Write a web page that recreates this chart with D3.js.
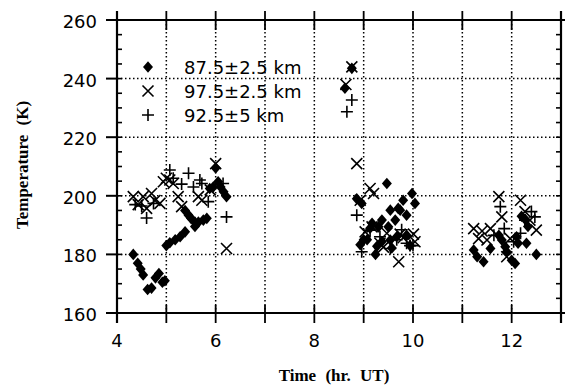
<!DOCTYPE html>
<html>
<head>
<meta charset="utf-8">
<script src="https://cdnjs.cloudflare.com/ajax/libs/d3/7.8.5/d3.min.js"></script>
<style>
  body { margin: 0; background: #fff; }
  svg { display: block; }
  .tick-label { font-family: "DejaVu Sans", sans-serif; font-size: 18px; fill: #000; }
  .title { font-family: "Liberation Serif", serif; font-weight: bold; font-size: 17px; fill: #000; }
</style>
</head>
<body>
<div id="chart"></div>
<script>
// time (hr UT), temperature (K)
const s875 = [
  [4.33,180],[4.42,177],[4.48,175],[4.53,173],[4.62,168],[4.70,168.5],[4.78,172],[4.85,173.5],[4.92,170.5],[4.97,171],
  [5.00,183],[5.07,184],[5.18,185],[5.28,186],[5.38,187.7],
  [5.38,195],[5.45,193.4],[5.50,192.3],[5.58,191],[5.58,189.5],[5.65,191],[5.75,191.7],[5.82,192.3],
  [5.88,202.5],[5.95,203],[6.00,209.5],[6.05,204.8],[6.10,203],[6.16,201.4],[6.22,199.7],
  [8.62,236.7],[8.76,243.5],
  [8.86,199],[8.96,197.4],[9.00,185],[8.93,183.3],[9.07,185],[9.13,188.9],[9.17,190.6],[9.24,180],[9.27,182.8],
  [9.30,189.4],[9.37,191.7],[9.37,184.4],[9.47,204.2],[9.50,189.4],[9.54,195.1],[9.54,184.9],[9.57,182.2],
  [9.64,191.7],[9.67,186],[9.70,195.7],[9.74,195.1],[9.80,198.5],[9.87,193.4],[9.87,186.5],[9.94,183],
  [9.98,200.8],[10.04,197.4],
  [11.23,181.5],[11.30,179.2],[11.43,177.5],[11.57,182],[11.74,186.5],[11.80,184.9],[11.87,182.6],[11.90,180.9],
  [12.00,178],[12.07,176.9],[12.10,186],[12.13,183.8],[12.20,193],[12.27,192],[12.30,183.8],[12.33,189.5],[12.50,180]
];
const s975 = [
  [4.33,199.7],[4.43,197],[4.53,199.7],[4.60,195.7],[4.70,200.8],[4.77,198.4],[4.87,197.4],[4.94,204.8],
  [5.00,206],[5.07,205.4],[5.14,204.2],[5.24,199.7],[5.31,196.3],[5.65,199.7],[5.72,198.5],[5.89,202],
  [6.00,211],[6.22,182],
  [8.64,238],[8.76,244],
  [8.86,211],[8.93,198.5],[9.03,187.7],[9.13,202.5],[9.17,189.4],[9.20,200.8],[9.33,183.8],[9.40,182.5],
  [9.47,187.2],[9.71,177.5],[9.74,186.9],[9.80,185.7],[10.01,186.9],[10.04,184.3],
  [11.23,188.8],[11.33,185.4],[11.40,188],[11.50,184.9],[11.57,188.8],[11.74,199.7],[11.80,192.8],
  [11.90,179.2],[11.97,185.4],[12.18,198.5],[12.27,194.6],[12.37,191.7],[12.50,188.3]
];
const s925 = [
  [4.37,197],[4.50,196.5],[4.60,192.4],[4.74,197.4],[5.07,208.8],[5.14,206],[5.31,204],[5.45,207.7],
  [5.55,203],[5.68,205.4],[5.72,204.2],[5.85,198],[6.15,204.2],[6.22,192.8],
  [8.66,228.7],[8.76,232.7],
  [8.86,193.4],[8.96,180.9],[9.13,188.3],[9.33,186],[9.54,182],[9.67,185],[9.77,188.4],[9.87,183.8],
  [9.94,183],[10.00,183],
  [11.64,186.5],[11.77,196.3],[11.85,188.8],[12.04,184.3],[12.18,187.2],[12.27,191.7],[12.40,194.6],[12.47,192.8]
];

const xTicks = [4, 6, 8, 10, 12];
const yTicks = [160, 180, 200, 220, 240, 260];
const legendLabels = ["87.5\u00b12.5 km", "97.5\u00b12.5 km", "92.5\u00b15 km"];

const W = 572, H = 385;
const x = d3.scaleLinear().domain([4, 13]).range([117, 561]);
const y = d3.scaleLinear().domain([160, 260]).range([313, 20]);

const svg = d3.select("#chart").append("svg").attr("width", W).attr("height", H);

// dotted grid
const grid = svg.append("g").attr("stroke", "#000").attr("stroke-width", 1.5).attr("stroke-dasharray", "1.5,2.5");
grid.selectAll("line.gx").data(d3.range(5, 13)).enter().append("line")
  .attr("x1", d => x(d)).attr("x2", d => x(d)).attr("y1", y(260)).attr("y2", y(160));
grid.selectAll("line.gy").data([180, 200, 220, 240]).enter().append("line")
  .attr("y1", d => y(d)).attr("y2", d => y(d)).attr("x1", x(4)).attr("x2", x(13));

// symbols
const diamond = "M0,-5.8L5,0L0,5.8L-5,0Z";
const cross = "M-5.5,-5.5L5.5,5.5M-5.5,5.5L5.5,-5.5";
const plus = "M-6,0L6,0M0,-6L0,6";

const pts = svg.append("g");
pts.selectAll("path.d").data(s875).enter().append("path")
  .attr("d", diamond).attr("fill", "#000")
  .attr("transform", d => `translate(${x(d[0])},${y(d[1])})`);
pts.selectAll("path.x").data(s975).enter().append("path")
  .attr("d", cross).attr("fill", "none").attr("stroke", "#000").attr("stroke-width", 1.6)
  .attr("transform", d => `translate(${x(d[0])},${y(d[1])})`);
pts.selectAll("path.p").data(s925).enter().append("path")
  .attr("d", plus).attr("fill", "none").attr("stroke", "#000").attr("stroke-width", 1.6)
  .attr("transform", d => `translate(${x(d[0])},${y(d[1])})`);

// frame
const ax = svg.append("g").attr("stroke", "#000").attr("fill", "none");
ax.append("line").attr("x1", x(4) - 11).attr("x2", x(13) + 4).attr("y1", y(160)).attr("y2", y(160)).attr("stroke-width", 2.2);
ax.append("line").attr("x1", x(4) - 11).attr("x2", x(13) + 4).attr("y1", y(260)).attr("y2", y(260)).attr("stroke-width", 2.2);
ax.append("line").attr("x1", x(4)).attr("x2", x(4)).attr("y1", y(260) - 9).attr("y2", y(160) + 10).attr("stroke-width", 2.2);
ax.append("line").attr("x1", x(13)).attr("x2", x(13)).attr("y1", y(260) - 9).attr("y2", y(160) + 10).attr("stroke-width", 2.2);

// x ticks every hour, crossing top and bottom
const hours = d3.range(4, 14);
ax.selectAll("line.xb").data(hours).enter().append("line")
  .attr("x1", d => x(d)).attr("x2", d => x(d)).attr("y1", y(160) - 8).attr("y2", y(160) + 10).attr("stroke-width", 1.8);
ax.selectAll("line.xt").data(hours).enter().append("line")
  .attr("x1", d => x(d)).attr("x2", d => x(d)).attr("y1", y(260) - 9).attr("y2", y(260) + 10).attr("stroke-width", 1.8);

// y ticks: minor every 5 inward on both sides, major out left
const minor = d3.range(160, 261, 5);
ax.selectAll("line.yl").data(minor).enter().append("line")
  .attr("x1", x(4)).attr("x2", x(4) + 5).attr("y1", d => y(d)).attr("y2", d => y(d)).attr("stroke-width", 1.6);
ax.selectAll("line.yr").data(minor).enter().append("line")
  .attr("x1", x(13) - 5).attr("x2", x(13)).attr("y1", d => y(d)).attr("y2", d => y(d)).attr("stroke-width", 1.6);
ax.selectAll("line.ym").data(yTicks).enter().append("line")
  .attr("x1", x(4) - 11).attr("x2", x(4)).attr("y1", d => y(d)).attr("y2", d => y(d)).attr("stroke-width", 2);

// tick labels
svg.selectAll("text.yt").data(yTicks).enter().append("text")
  .attr("class", "tick-label").attr("text-anchor", "end")
  .attr("x", x(4) - 20).attr("y", d => y(d) + 8).text(d => d);
svg.selectAll("text.xt").data(xTicks).enter().append("text")
  .attr("class", "tick-label").attr("text-anchor", "middle")
  .attr("x", d => x(d)).attr("y", y(160) + 34).text(d => d);

// titles
svg.append("text").attr("class", "title").attr("text-anchor", "middle")
  .attr("x", 334).attr("y", 381).attr("word-spacing", 5).text("Time (hr. UT)");
svg.append("text").attr("class", "title").attr("text-anchor", "middle")
  .attr("transform", "translate(28,165) rotate(-90)").attr("word-spacing", 5).text("Temperature (K)");

// legend
const legendSym = [diamond, cross, plus];
const lg = svg.append("g");
legendLabels.forEach((lab, i) => {
  const yy = 67 + i * 24;
  const p = lg.append("path").attr("d", legendSym[i]).attr("transform", `translate(148,${yy})`);
  if (i === 0) p.attr("fill", "#000");
  else p.attr("fill", "none").attr("stroke", "#000").attr("stroke-width", 1.6);
  lg.append("text").attr("class", "tick-label").attr("x", 184).attr("y", yy + 7).text(lab);
});
</script>
</body>
</html>
